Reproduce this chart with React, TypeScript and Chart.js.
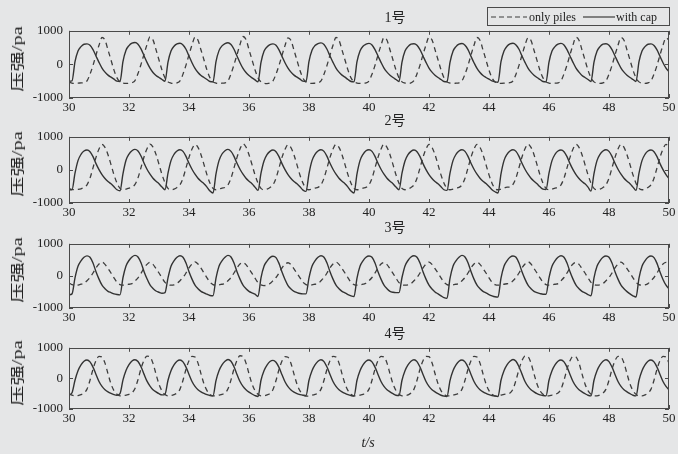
import React, { useEffect, useRef } from "react";
import { Chart, registerables } from "chart.js";

Chart.register(...registerables);

// Pressure samples every 0.1 s from t = 30 s to t = 50 s (201 samples per series)
// Panel 1号
const p1Cap = [
  -500,
  -490, 80, 400, 530, 600, 610, 570, 440, 250, 60, -110, -230, -320, -380, -440, -500,
  -510, 90, 420, 560, 630, 650, 600, 460, 260, 60, -110, -240, -330, -390, -450,
  -500, 70, 400, 540, 610, 630, 580, 450, 250, 50, -120, -240, -330, -390, -450, -510,
  -520, 80, 410, 550, 620, 645, 590, 450, 250, 50, -120, -240, -330, -400, -460,
  -520, 60, 390, 520, 590, 610, 570, 430, 240, 50, -110, -230, -320, -380, -440, -500,
  -510, 90, 420, 560, 620, 640, 590, 450, 250, 60, -110, -230, -320, -380, -450, -510,
  -520, 80, 400, 540, 600, 625, 580, 440, 250, 60, -110, -230, -320, -390, -450,
  -510, 70, 400, 530, 600, 615, 570, 440, 250, 60, -110, -230, -320, -390, -450, -510,
  -520, 60, 390, 530, 600, 620, 570, 440, 240, 50, -120, -240, -330, -390, -440, -490, -520,
  -530, 80, 400, 540, 610, 630, 580, 450, 250, 60, -110, -230, -320, -390, -450, -510,
  -520, 70, 400, 530, 600, 625, 580, 440, 250, 60, -110, -230, -330, -390, -450,
  -510, 70, 390, 530, 600, 615, 570, 440, 250, 60, -110, -230, -320, -390, -450,
  -510, 80, 400, 530, 600, 610, 560, 430, 240, 50, -110, -220,
];
const p1Piles = [
  -520, -555, -565, -560, -550,
  -540, -490, -290, -30, 280, 570, 800, 720, 430, 130, -170, -400, -520, -555, -565, -560,
  -545, -480, -270, 0, 300, 590, 820, 730, 440, 130, -170, -400, -520, -555, -565,
  -550, -490, -290, -20, 290, 580, 810, 720, 430, 130, -170, -400, -520, -555, -565, -560,
  -550, -490, -280, -10, 290, 590, 830, 740, 440, 140, -160, -400, -520, -560, -570,
  -555, -490, -290, -30, 270, 560, 790, 710, 420, 120, -180, -410, -520, -555, -565, -560,
  -550, -490, -290, -30, 280, 570, 800, 720, 430, 130, -170, -400, -520, -555, -565, -560,
  -550, -490, -290, -30, 280, 570, 800, 720, 430, 130, -170, -400, -520, -555, -565,
  -550, -480, -280, -20, 290, 580, 810, 730, 440, 140, -160, -400, -520, -555, -565, -560,
  -550, -490, -290, -30, 280, 570, 800, 720, 430, 130, -170, -400, -520, -555, -565, -560, -550,
  -545, -490, -290, -30, 280, 570, 790, 710, 420, 120, -180, -400, -520, -555, -565, -560,
  -550, -490, -280, -20, 290, 580, 810, 720, 430, 130, -170, -400, -520, -555, -565,
  -550, -490, -290, -30, 280, 570, 800, 720, 430, 130, -170, -400, -520, -555, -565,
  -550, -490, -290, -30, 280, 570, 790, 720,
];

// Panel 2号
const p2Cap = [
  -600,
  -600, -100, 280, 470, 570, 600, 550, 400, 190, 10, -140, -260, -350, -420, -510, -600,
  -630, -110, 290, 480, 580, 620, 570, 420, 210, 20, -130, -250, -340, -420, -520,
  -600, -100, 280, 470, 570, 610, 560, 410, 200, 20, -130, -250, -340, -420, -520, -640,
  -700, -120, 280, 480, 580, 620, 560, 410, 200, 20, -130, -250, -340, -420, -520,
  -620, -100, 270, 460, 560, 600, 550, 400, 190, 10, -140, -260, -350, -420, -510, -610,
  -650, -110, 280, 470, 570, 610, 560, 410, 200, 20, -130, -250, -340, -420, -520, -640,
  -700, -120, 280, 470, 580, 610, 560, 410, 200, 20, -130, -250, -340, -420, -520,
  -600, -100, 270, 460, 560, 600, 550, 400, 190, 10, -140, -260, -350, -420, -510, -600,
  -620, -100, 280, 470, 570, 610, 560, 410, 200, 20, -130, -250, -340, -410, -500, -600, -660,
  -700, -120, 280, 470, 570, 610, 560, 410, 200, 20, -130, -250, -340, -420, -510, -580,
  -590, -100, 280, 470, 570, 600, 550, 400, 190, 10, -140, -260, -350, -420, -520,
  -640, -110, 280, 470, 570, 610, 560, 410, 200, 20, -130, -250, -340, -420, -520,
  -620, -100, 280, 470, 570, 600, 550, 400, 190, 10, -140, -260,
];
const p2Piles = [
  -560, -590, -600, -590, -570,
  -530, -450, -250, 60, 380, 630, 770, 680, 460, 160, -150, -400, -560, -600, -580, -550,
  -520, -440, -240, 70, 390, 640, 780, 690, 470, 170, -140, -390, -560, -600, -580,
  -530, -450, -250, 60, 380, 630, 770, 680, 460, 160, -150, -400, -560, -600, -580, -550,
  -530, -450, -250, 60, 380, 630, 790, 690, 460, 160, -150, -400, -560, -600, -580,
  -530, -450, -250, 60, 380, 620, 760, 670, 450, 150, -160, -400, -560, -600, -580, -550,
  -530, -450, -250, 60, 380, 630, 770, 680, 460, 160, -150, -400, -560, -600, -580, -550,
  -530, -450, -250, 60, 380, 630, 780, 680, 460, 160, -150, -400, -560, -600, -580,
  -530, -450, -250, 60, 380, 630, 770, 680, 460, 160, -150, -400, -560, -600, -580, -550,
  -530, -450, -250, 60, 380, 630, 770, 680, 460, 160, -150, -400, -560, -600, -580, -550, -520,
  -520, -440, -240, 70, 390, 640, 780, 680, 460, 160, -150, -400, -560, -600, -580, -550,
  -530, -450, -250, 60, 380, 630, 770, 680, 460, 160, -150, -400, -560, -600, -580,
  -530, -450, -250, 60, 380, 630, 770, 680, 460, 160, -150, -400, -560, -600, -580,
  -530, -450, -250, 60, 380, 630, 770, 680,
];

// Panel 3号
const p3Cap = [
  -590,
  -560, -60, 300, 470, 580, 625, 580, 400, 130, -100, -290, -400, -480, -520, -560, -580,
  -590, -50, 310, 480, 590, 640, 590, 410, 140, -90, -280, -390, -470, -510, -540,
  -520, -60, 300, 470, 580, 630, 580, 400, 130, -100, -290, -400, -480, -530, -570, -610,
  -620, -70, 300, 470, 580, 640, 590, 400, 130, -100, -290, -400, -480, -530, -570,
  -640, -60, 300, 460, 570, 610, 570, 390, 120, -110, -300, -410, -480, -520, -550, -560,
  -560, -60, 300, 470, 580, 630, 580, 400, 130, -100, -290, -400, -480, -530, -580, -620,
  -640, -70, 300, 470, 580, 620, 580, 400, 130, -100, -290, -400, -480, -510, -520,
  -520, -50, 310, 480, 590, 630, 580, 400, 130, -100, -290, -410, -500, -560, -620, -680,
  -700, -80, 300, 470, 580, 640, 590, 410, 140, -100, -290, -400, -480, -530, -580, -620, -650,
  -660, -70, 300, 470, 580, 620, 580, 400, 130, -100, -290, -400, -480, -520, -550, -570,
  -570, -60, 300, 470, 580, 630, 580, 400, 130, -100, -290, -400, -480, -530, -580,
  -620, -60, 300, 470, 580, 620, 580, 400, 130, -100, -290, -400, -490, -560, -620,
  -660, -70, 300, 470, 580, 620, 570, 390, 120, -110, -290, -400,
];
const p3Piles = [
  -220, -270, -290, -285, -260,
  -230, -150, -50, 90, 250, 370, 430, 360, 230, 90, -60, -200, -270, -290, -280, -260,
  -240, -160, -60, 80, 240, 360, 420, 360, 230, 90, -60, -200, -270, -290, -280,
  -230, -150, -50, 90, 250, 370, 440, 370, 240, 90, -60, -200, -270, -290, -280, -260,
  -240, -150, -50, 90, 250, 370, 420, 350, 220, 80, -70, -210, -280, -300, -290,
  -240, -150, -50, 90, 250, 360, 410, 350, 220, 80, -60, -200, -270, -290, -280, -260,
  -240, -150, -50, 90, 250, 370, 430, 360, 230, 90, -60, -200, -270, -290, -280, -260,
  -230, -150, -50, 90, 250, 370, 420, 350, 220, 80, -70, -210, -280, -290, -280,
  -240, -150, -50, 90, 250, 370, 430, 360, 230, 90, -60, -200, -270, -290, -280, -260,
  -240, -150, -50, 90, 250, 370, 430, 360, 230, 90, -60, -200, -270, -290, -280, -260, -245,
  -230, -150, -50, 90, 250, 370, 440, 370, 230, 90, -60, -200, -270, -290, -280, -260,
  -240, -150, -50, 90, 250, 370, 420, 360, 230, 90, -60, -200, -270, -290, -280,
  -240, -150, -50, 90, 250, 370, 430, 360, 230, 90, -60, -200, -270, -290, -280,
  -240, -150, -50, 90, 250, 370, 420, 370,
];

// Panel 4号
const p4Cap = [
  -540,
  -470, -60, 250, 440, 560, 600, 540, 370, 130, -100, -260, -370, -440, -490, -530, -550,
  -500, -50, 260, 450, 570, 610, 550, 380, 140, -90, -250, -370, -440, -500, -540,
  -520, -60, 250, 440, 560, 600, 540, 370, 130, -100, -260, -370, -440, -490, -530, -560,
  -570, -70, 250, 440, 560, 620, 560, 380, 130, -100, -260, -370, -450, -510, -560,
  -590, -60, 250, 430, 550, 590, 530, 360, 120, -110, -270, -380, -450, -500, -530, -550,
  -560, -60, 250, 440, 560, 610, 550, 370, 130, -100, -260, -370, -440, -490, -530, -560,
  -580, -60, 250, 440, 560, 600, 540, 370, 130, -100, -260, -370, -440, -500, -550,
  -560, -60, 250, 440, 560, 610, 550, 370, 130, -100, -260, -370, -440, -500, -550, -580,
  -590, -70, 250, 440, 560, 600, 540, 370, 130, -100, -260, -370, -440, -490, -530, -560, -580,
  -590, -60, 250, 440, 560, 620, 560, 380, 140, -100, -260, -370, -440, -500, -540, -560,
  -570, -60, 250, 440, 560, 600, 540, 370, 130, -100, -260, -370, -440, -500, -550,
  -570, -60, 250, 440, 560, 610, 550, 370, 130, -100, -260, -370, -440, -500, -550,
  -570, -60, 250, 440, 560, 600, 540, 370, 130, -100, -260, -370,
];
const p4Piles = [
  -500, -550, -570, -560, -530,
  -480, -350, -60, 300, 580, 720, 700, 500, 150, -180, -400, -520, -570, -570, -545, -520,
  -470, -330, -40, 320, 590, 730, 700, 490, 140, -190, -410, -530, -570, -560, -530,
  -480, -350, -60, 300, 580, 720, 700, 500, 150, -180, -400, -520, -570, -570, -545, -520,
  -480, -340, -50, 310, 590, 740, 710, 500, 150, -180, -400, -520, -570, -570, -540,
  -490, -360, -70, 290, 570, 710, 690, 490, 140, -190, -410, -530, -580, -575, -550, -520,
  -480, -350, -60, 300, 580, 720, 700, 500, 150, -180, -400, -520, -570, -570, -545, -520,
  -480, -350, -60, 300, 580, 720, 700, 500, 150, -180, -400, -520, -570, -570, -540,
  -480, -350, -60, 300, 580, 720, 710, 510, 160, -170, -400, -520, -570, -570, -545, -520,
  -480, -350, -60, 300, 580, 720, 700, 500, 150, -180, -400, -520, -570, -570, -545, -520, -505,
  -480, -350, -60, 300, 580, 730, 710, 500, 150, -180, -400, -520, -570, -570, -545, -520,
  -480, -350, -60, 300, 580, 720, 700, 500, 150, -180, -400, -520, -570, -570, -540,
  -480, -350, -60, 300, 580, 720, 700, 500, 150, -180, -400, -520, -570, -570, -540,
  -480, -350, -60, 300, 580, 720, 700, 500,
];

const panelTitles = ["1号", "2号", "3号", "4号"];
const seriesNames = ["only piles", "with cap"];
const xTicksMin = 30;
const xTicksMax = 50;
const xTickStep = 2;
const yTicksMin = -1000;
const yTicksMax = 1000;
const yTickStep = 1000;
const sampleStart = 30;
const sampleStep = 0.1;

const BG = "#e5e6e7";
const INK = "#222";
const LINE = "#3d3d3d";
const SERIF = '"Liberation Serif", "Noto Sans CJK SC", serif';

const panels = [
  { top: 25, bottom: 98, cap: p1Cap, piles: p1Piles, titleY: 18 },
  { top: 131, bottom: 203, cap: p2Cap, piles: p2Piles, titleY: 121 },
  { top: 238, bottom: 308, cap: p3Cap, piles: p3Piles, titleY: 228 },
  { top: 342, bottom: 409, cap: p4Cap, piles: p4Piles, titleY: 334 },
];

const PLOT_LEFT = 69;
const PLOT_RIGHT = 669;
const PAD_TOP = 8;
const XAXIS_H = 22;
const W = 678;

const boxPlugin = {
  id: "boxTicks",
  afterDatasetsDraw(chart: any) {
    const { ctx, chartArea: a, scales } = chart;
    ctx.save();
    ctx.strokeStyle = "#4a4a4a";
    ctx.lineWidth = 1;
    ctx.strokeRect(Math.round(a.left) + 0.5, Math.round(a.top) + 0.5, Math.round(a.width) - 1, Math.round(a.height) - 1);
    ctx.beginPath();
    scales.x.ticks.forEach((t: any) => {
      const px = Math.round(scales.x.getPixelForValue(t.value)) + 0.5;
      ctx.moveTo(px, a.bottom);
      ctx.lineTo(px, a.bottom - 4);
      ctx.moveTo(px, a.top);
      ctx.lineTo(px, a.top + 4);
    });
    scales.y.ticks.forEach((t: any) => {
      const py = Math.round(scales.y.getPixelForValue(t.value)) + 0.5;
      ctx.moveTo(a.left, py);
      ctx.lineTo(a.left + 4, py);
      ctx.moveTo(a.right, py);
      ctx.lineTo(a.right - 4, py);
    });
    ctx.stroke();
    ctx.restore();
  },
};

function toPoints(vals: number[]) {
  return vals.map((v, i) => ({ x: +(sampleStart + i * sampleStep).toFixed(2), y: v }));
}

function Panel({ top, bottom, cap, piles }: any) {
  const ref = useRef<HTMLCanvasElement>(null);
  const h = bottom - top + PAD_TOP + XAXIS_H;
  useEffect(() => {
    if (!ref.current) return;
    const chart = new Chart(ref.current, {
      type: "line",
      data: {
        datasets: [
          {
            label: seriesNames[0],
            data: toPoints(piles),
            borderColor: LINE,
            borderWidth: 1.3,
            borderDash: [5, 4],
            pointRadius: 0,
            cubicInterpolationMode: "monotone",
            fill: false,
          },
          {
            label: seriesNames[1],
            data: toPoints(cap),
            borderColor: "#333",
            borderWidth: 1.4,
            pointRadius: 0,
            cubicInterpolationMode: "monotone",
            fill: false,
          },
        ],
      },
      options: {
        animation: false,
        responsive: false,
        maintainAspectRatio: false,
        layout: { padding: { top: PAD_TOP, right: W - PLOT_RIGHT, left: 0, bottom: 0 } },
        plugins: { legend: { display: false }, tooltip: { enabled: false }, title: { display: false } },
        scales: {
          x: {
            type: "linear",
            min: xTicksMin,
            max: xTicksMax,
            ticks: {
              stepSize: xTickStep,
              font: { family: SERIF, size: 13 },
              color: INK,
              padding: 2,
              maxRotation: 0,
              autoSkip: false,
              callback: (v: any) => String(v),
            },
            grid: { display: false, drawTicks: false },
            border: { display: false },
            afterFit: (s: any) => { s.height = XAXIS_H; },
          },
          y: {
            type: "linear",
            min: yTicksMin,
            max: yTicksMax,
            ticks: {
              stepSize: yTickStep,
              font: { family: SERIF, size: 13 },
              color: INK,
              padding: 6,
              callback: (v: any) => String(v),
            },
            grid: { display: false, drawTicks: false },
            border: { display: false },
            afterFit: (s: any) => { s.width = PLOT_LEFT; },
          },
        },
      },
      plugins: [boxPlugin],
    } as any);
    return () => chart.destroy();
  }, []);
  return (
    <canvas
      ref={ref}
      width={W}
      height={h}
      style={{ position: "absolute", left: 0, top: top - PAD_TOP, width: W, height: h }}
    />
  );
}

export default function App() {
  useEffect(() => {
    document.body.style.margin = "0";
    document.body.style.background = BG;
  }, []);
  return (
    <div style={{ position: "absolute", left: 0, top: 0, width: W, height: 454, background: BG, overflow: "hidden", fontFamily: SERIF, color: INK }}>
      {panels.map((p, i) => (
        <React.Fragment key={i}>
          <Panel top={p.top} bottom={p.bottom} cap={p.cap} piles={p.piles} />
          <div
            style={{ position: "absolute", left: 395, top: p.titleY, transform: "translate(-50%, -50%)", fontSize: 14, whiteSpace: "nowrap", lineHeight: 1 }}
          >
            {panelTitles[i]}
          </div>
          <div
            style={{
              position: "absolute",
              left: 18,
              top: (p.top + p.bottom) / 2 - 3,
              transform: "translate(-50%, -50%) rotate(-90deg) scale(1.45, 1)",
              fontSize: 14,
              whiteSpace: "nowrap",
              lineHeight: 1,
            }}
          >
            压强/pa
          </div>
        </React.Fragment>
      ))}
      <div
        style={{ position: "absolute", left: 487, top: 7, width: 183, height: 19, border: "1px solid #4a4a4a", boxSizing: "border-box", fontSize: 12, lineHeight: 1 }}
      >
        <svg width={38} height={10} style={{ position: "absolute", left: 2, top: 4 }}>
          <line x1={1} y1={5} x2={37} y2={5} stroke={LINE} strokeWidth={1.2} strokeDasharray="5 3" />
        </svg>
        <span style={{ position: "absolute", left: 41, top: 3 }}>{seriesNames[0]}</span>
        <svg width={34} height={10} style={{ position: "absolute", left: 94, top: 4 }}>
          <line x1={1} y1={5} x2={33} y2={5} stroke={LINE} strokeWidth={1.2} />
        </svg>
        <span style={{ position: "absolute", left: 128, top: 3 }}>{seriesNames[1]}</span>
      </div>
      <div style={{ position: "absolute", left: 368, top: 443, transform: "translate(-50%, -50%)", fontSize: 14, fontStyle: "italic", lineHeight: 1 }}>
        t/s
      </div>
    </div>
  );
}
